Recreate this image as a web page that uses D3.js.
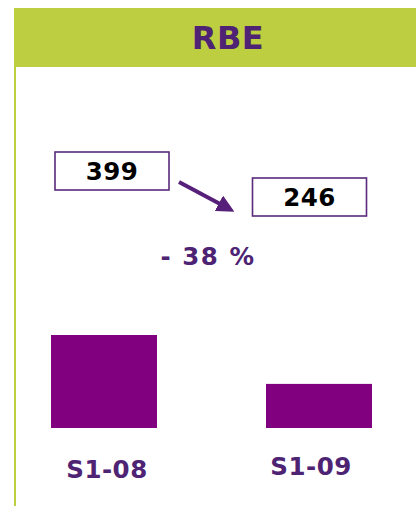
<!DOCTYPE html>
<meta charset="utf-8">
<style>
body { margin: 0; background: #fff; }
svg { font-family: "DejaVu Sans", Verdana, sans-serif; font-weight: bold; }
</style>
<body>
<script src="https://d3js.org/d3.v7.min.js"></script>
<script>

// data
var title = "RBE";
var periods = ["S1-08", "S1-09"];
var values = [399, 246];
var changeLabel = "- 38 %";

var W = 416, H = 506;
var green = "#bdcf41",
    purple = "#4e2373",
    barColor = "#800080";

var svg = d3.select("body").append("svg")
    .attr("width", W)
    .attr("height", H);

// header band + left rule
svg.append("rect")
    .attr("x", 14).attr("y", 8)
    .attr("width", W - 14).attr("height", 59)
    .style("fill", green);
svg.append("rect")
    .attr("x", 14).attr("y", 67)
    .attr("width", 2).attr("height", H - 67)
    .style("fill", green);

svg.append("text")
    .attr("x", 228).attr("y", 49)
    .attr("text-anchor", "middle")
    .style("font-size", "32px")
    .style("letter-spacing", "0.5px")
    .style("fill", purple)
    .text(title);

// scales
var x = d3.scaleBand()
    .domain(periods)
    .range([51, 372])
    .paddingInner(0.507)
    .paddingOuter(0);

// axis does not start at zero in the original
var y = d3.scaleLinear()
    .domain([108, 399])
    .range([428, 335]);

var bars = svg.append("g");
bars.selectAll("rect")
    .data(values)
  .enter().append("rect")
    .attr("x", function(d, i) { return x(periods[i]); })
    .attr("y", function(d) { return y(d); })
    .attr("width", x.bandwidth())
    .attr("height", function(d) { return y(y.domain()[0]) - y(d); })
    .style("fill", barColor);

svg.append("g").selectAll("text")
    .data(periods)
  .enter().append("text")
    .attr("x", function(d) { return x(d) + x.bandwidth() / 2 + (d == "S1-08" ? 3 : -8); })
    .attr("y", function(d, i) { return i == 0 ? 478 : 475; })
    .attr("text-anchor", "middle")
    .style("font-size", "24.5px")
    .style("letter-spacing", "0.5px")
    .style("fill", purple)
    .text(function(d) { return d; });

// value boxes
var boxW = 114, boxH = 38;
var boxTop = [152, 178],
    boxCx = [112, 309.5];

var boxes = svg.append("g").selectAll("g")
    .data(values)
  .enter().append("g")
    .attr("transform", function(d, i) {
      return "translate(" + (boxCx[i] - boxW / 2) + "," + boxTop[i] + ")";
    });
boxes.append("rect")
    .attr("width", boxW)
    .attr("height", boxH)
    .style("fill", "#fff")
    .style("stroke", "#5b2a7c")
    .style("stroke-width", 1.6);
boxes.append("text")
    .attr("x", boxW / 2)
    .attr("y", 27.5)
    .attr("text-anchor", "middle")
    .style("font-size", "24.5px")
    .style("letter-spacing", "0.5px")
    .style("fill", "#000")
    .text(function(d) { return d; });

// arrow
svg.append("defs").append("marker")
    .attr("id", "head")
    .attr("viewBox", "0 0 10 10")
    .attr("refX", 2).attr("refY", 5)
    .attr("markerWidth", 4.4).attr("markerHeight", 4.4)
    .attr("orient", "auto")
  .append("path")
    .attr("d", "M0,0L10,5L0,10z")
    .style("fill", "#561f7a");

svg.append("line")
    .attr("x1", 179).attr("y1", 182)
    .attr("x2", 222).attr("y2", 205)
    .style("stroke", "#561f7a")
    .style("stroke-width", 4)
    .attr("marker-end", "url(#head)");

svg.append("text")
    .attr("x", 208).attr("y", 265)
    .attr("text-anchor", "middle")
    .style("font-size", "24.5px")
    .style("letter-spacing", "1.5px")
    .style("fill", purple)
    .text(changeLabel);

</script>
</body>
